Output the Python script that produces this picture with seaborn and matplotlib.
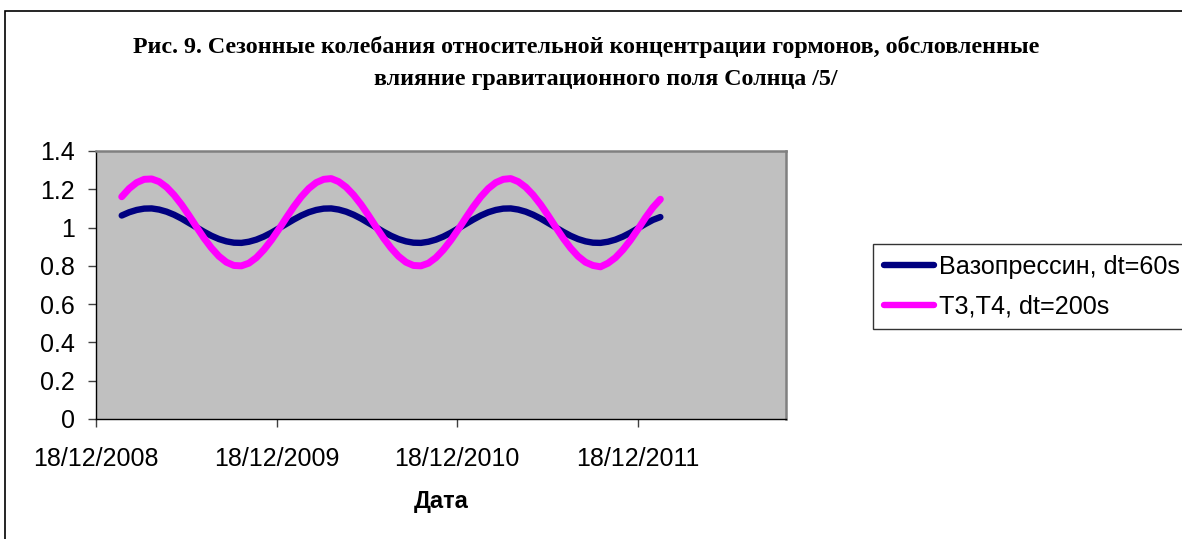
import pandas as pd
import numpy as np
import matplotlib
matplotlib.use("Agg")
import matplotlib.pyplot as plt
import matplotlib.dates as mdates
from matplotlib.patches import Rectangle
from matplotlib.lines import Line2D
import seaborn as sns

# Values, about every half month
start_date = "2009-02-08"
end_date = "2012-02-02"

vasopressin = [
    1.063, 1.080, 1.092, 1.099, 1.100, 1.094, 1.083, 1.067, 1.047, 1.024, 1.001, 0.978,
    0.957, 0.940, 0.928, 0.921, 0.920, 0.926, 0.937, 0.953, 0.973, 0.996, 1.019, 1.042,
    1.063, 1.080, 1.092, 1.099, 1.100, 1.094, 1.083, 1.067, 1.047, 1.024, 1.001, 0.978,
    0.957, 0.940, 0.928, 0.921, 0.920, 0.926, 0.937, 0.953, 0.973, 0.996, 1.019, 1.042,
    1.063, 1.080, 1.092, 1.099, 1.100, 1.094, 1.083, 1.067, 1.047, 1.024, 1.001, 0.978,
    0.957, 0.940, 0.928, 0.921, 0.920, 0.926, 0.937, 0.953, 0.973, 0.996, 1.019, 1.040,
    1.055,
]
t3t4 = [
    1.161, 1.204, 1.235, 1.252, 1.254, 1.240, 1.211, 1.170, 1.120, 1.063, 1.003, 0.945,
    0.893, 0.850, 0.819, 0.802, 0.800, 0.814, 0.843, 0.884, 0.934, 0.991, 1.051, 1.109,
    1.161, 1.204, 1.235, 1.252, 1.256, 1.240, 1.211, 1.170, 1.120, 1.063, 1.003, 0.945,
    0.893, 0.850, 0.819, 0.802, 0.800, 0.814, 0.843, 0.884, 0.934, 0.991, 1.051, 1.109,
    1.161, 1.204, 1.235, 1.252, 1.256, 1.240, 1.211, 1.170, 1.120, 1.063, 1.003, 0.945,
    0.893, 0.850, 0.819, 0.802, 0.795, 0.814, 0.843, 0.884, 0.934, 0.991, 1.051, 1.105,
    1.148,
]
series_names = ["Вазопрессин, dt=60s", "T3,T4, dt=200s"]
colors = ["#000080", "#FF00FF"]
tick_dates = ["2008-12-18", "2009-12-18", "2010-12-18", "2011-12-18"]

title_line1 = "Рис. 9. Сезонные колебания относительной концентрации гормонов, обсловленные"
title_line2 = "влияние гравитационного поля Солнца /5/"

dates = pd.date_range(start_date, end_date, periods=len(vasopressin))
df = pd.concat([
    pd.DataFrame({"date": dates, "value": vasopressin, "series": series_names[0]}),
    pd.DataFrame({"date": dates, "value": t3t4, "series": series_names[1]}),
])

sns.set_style("white")
plt.rcParams["font.family"] = ["Liberation Sans", "DejaVu Sans"]
plt.rcParams["text.color"] = "black"
plt.rcParams["axes.labelcolor"] = "black"
plt.rcParams["xtick.color"] = "black"
plt.rcParams["ytick.color"] = "black"

fig = plt.figure(figsize=(11.82, 5.39), dpi=100)
ax = fig.add_axes([96 / 1182, 1 - 419 / 539, 690 / 1182, 268 / 539])
ax.set_facecolor("#C0C0C0")

sns.lineplot(data=df, x="date", y="value", hue="series", palette=colors,
             ax=ax, legend=False, solid_capstyle="round")
ax.lines[0].set_linewidth(4.6)
ax.lines[1].set_linewidth(5.0)

ax.set_xlim(pd.Timestamp("2008-12-18"), pd.Timestamp("2012-10-13"))
ax.set_ylim(0, 1.4)
ax.set_yticks(np.arange(0, 1.41, 0.2))
ax.set_yticklabels(["0", "0.2", "0.4", "0.6", "0.8", "1", "1.2", "1.4"])
ax.set_xticks([pd.Timestamp(d) for d in tick_dates])
ax.xaxis.set_major_formatter(mdates.DateFormatter("%d/%m/%Y"))
ax.tick_params(axis="both", labelsize=18, direction="out", length=6, width=1,
               color="#404040", labelcolor="black", left=True, bottom=True)
ax.tick_params(axis="x", pad=14)
ax.tick_params(axis="y", pad=9)
ax.set_ylabel("")
ax.set_xlabel("Дата", fontsize=17, fontweight="bold", labelpad=14, color="black")

for side in ["left", "bottom"]:
    ax.spines[side].set_color("black")
    ax.spines[side].set_linewidth(1.0)
for side in ["top", "right"]:
    ax.spines[side].set_color("#808080")
    ax.spines[side].set_linewidth(1.8)

# legend outside, sticking past the right edge like in the source
handles = [Line2D([], [], color=c, lw=4.6, solid_capstyle="round") for c in colors]
leg = fig.legend(handles, series_names, loc="upper left",
                 bbox_to_anchor=(873 / 1182, 1 - 244 / 539), fontsize=18.1,
                 frameon=True, fancybox=False, handlelength=2.0, handletextpad=0.2,
                 borderpad=0.42, labelspacing=0.65, borderaxespad=0)
leg.get_frame().set_edgecolor("black")
leg.get_frame().set_linewidth(1.0)
for t in leg.get_texts():
    t.set_color("black")

fig.text(586 / 1182, 1 - 47 / 539, title_line1, ha="center", va="center",
         fontsize=17.3, fontweight="bold", family="Liberation Serif", color="black")
fig.text(606 / 1182, 1 - 80 / 539, title_line2, ha="center", va="center",
         fontsize=17.3, fontweight="bold", family="Liberation Serif", color="black")

# chart frame
fig.patches.append(Rectangle((5 / 1182, -0.1), 1.2, 1.1 - 11 / 539,
                             transform=fig.transFigure, fill=False,
                             edgecolor="black", linewidth=1.2))

fig.savefig("out.png", dpi=100)
